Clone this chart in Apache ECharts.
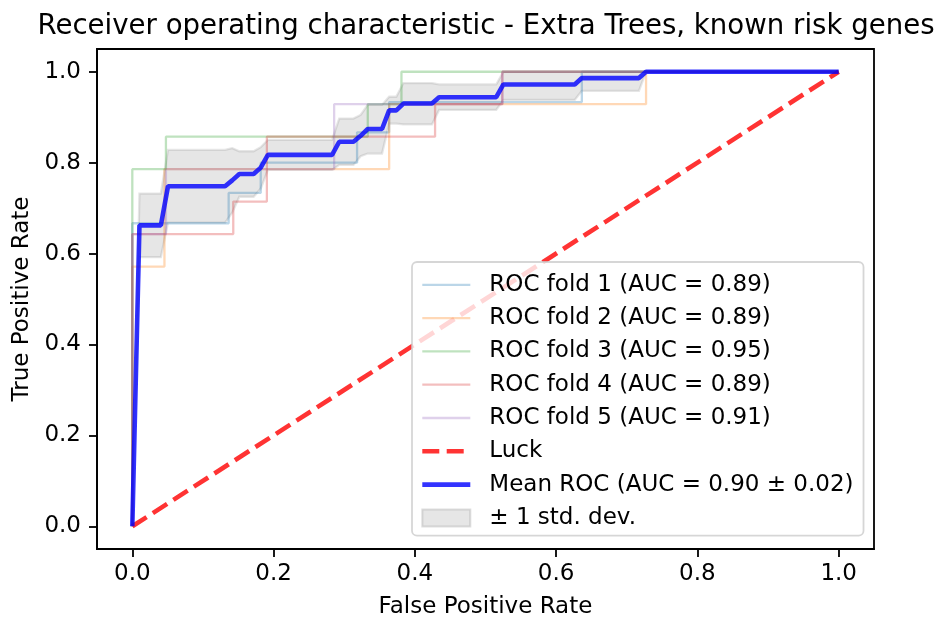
<!DOCTYPE html>
<html>
<head>
<meta charset="utf-8">
<script src="https://cdn.jsdelivr.net/npm/echarts@6/dist/echarts.min.js"></script>
<style>
  html, body { margin: 0; padding: 0; background: #ffffff; }
  #chart { width: 944px; height: 624px; }
</style>
</head>
<body>
<div id="chart"></div>
<script>
// ---- data ----
const titleText = 'Receiver operating characteristic - Extra Trees, known risk genes';
const xTicks = [0, 0.2, 0.4, 0.6, 0.8, 1.0];
const yTicks = [0, 0.2, 0.4, 0.6, 0.8, 1.0];

const fold1X = [0, 0, 0.1364, 0.1364, 0.1818, 0.1818, 0.3182, 0.3182, 0.3636, 0.3636, 0.6364, 0.6364, 1];
const fold1Y = [0, 0.6667, 0.6667, 0.7333, 0.7333, 0.8, 0.8, 0.8667, 0.8667, 0.9333, 0.9333, 1, 1];
const fold2X = [0, 0, 0.0455, 0.0455, 0.3636, 0.3636, 0.7273, 0.7273, 1];
const fold2Y = [0, 0.5714, 0.5714, 0.7857, 0.7857, 0.9286, 0.9286, 1, 1];
const fold3X = [0, 0, 0.0476, 0.0476, 0.3333, 0.3333, 0.381, 0.381, 1];
const fold3Y = [0, 0.7857, 0.7857, 0.8571, 0.8571, 0.9286, 0.9286, 1, 1];
const fold4X = [0, 0, 0.1429, 0.1429, 0.1905, 0.1905, 0.4286, 0.4286, 0.5238, 0.5238, 1];
const fold4Y = [0, 0.6429, 0.6429, 0.7143, 0.7143, 0.8571, 0.8571, 0.9286, 0.9286, 1, 1];
const fold5X = [0, 0, 0.0476, 0.0476, 0.2857, 0.2857, 0.5238, 0.5238, 1];
const fold5Y = [0, 0.6429, 0.6429, 0.7857, 0.7857, 0.9286, 0.9286, 1, 1];

const luckX = [0, 1];
const luckY = [0, 1];

const meanX = [0, 0.0101, 0.0404, 0.0505, 0.1313, 0.1414, 0.1515, 0.1717, 0.1818, 0.1919, 0.2828, 0.2929, 0.3131, 0.3232, 0.3333, 0.3535, 0.3636, 0.3737, 0.3838, 0.4242, 0.4343, 0.5152, 0.5253, 0.6263, 0.6364, 0.7172, 0.7273, 1.0];
const meanY = [0, 0.662, 0.662, 0.748, 0.748, 0.761, 0.775, 0.775, 0.789, 0.817, 0.817, 0.846, 0.846, 0.859, 0.874, 0.874, 0.915, 0.915, 0.930, 0.930, 0.944, 0.944, 0.972, 0.972, 0.986, 0.986, 1, 1];
const bandLower = [0, 0.592, 0.592, 0.668, 0.668, 0.690, 0.725, 0.725, 0.743, 0.784, 0.784, 0.795, 0.795, 0.814, 0.820, 0.820, 0.886, 0.886, 0.884, 0.884, 0.916, 0.916, 0.938, 0.938, 0.958, 0.958, 1, 1];
const bandUpper = [0, 0.732, 0.732, 0.828, 0.828, 0.832, 0.825, 0.825, 0.834, 0.850, 0.850, 0.897, 0.897, 0.905, 0.927, 0.927, 0.945, 0.945, 0.975, 0.975, 0.972, 0.972, 1, 1, 1, 1, 1, 1];

const foldNames = ['ROC fold 1 (AUC = 0.89)', 'ROC fold 2 (AUC = 0.89)', 'ROC fold 3 (AUC = 0.95)', 'ROC fold 4 (AUC = 0.89)', 'ROC fold 5 (AUC = 0.91)'];
const luckName = 'Luck';
const meanName = 'Mean ROC (AUC = 0.90 \u00b1 0.02)';
const bandName = '\u00b1 1 std. dev.';

// ---- build chart ----
const zip = (xs, ys) => xs.map((x, i) => [x, ys[i]]);
const FONT = 'DejaVu Sans';
const foldColors = ['rgba(31,119,180,0.3)', 'rgba(255,127,14,0.3)', 'rgba(44,160,44,0.3)', 'rgba(214,39,40,0.3)', 'rgba(148,103,189,0.3)'];
const foldXs = [fold1X, fold2X, fold3X, fold4X, fold5X];
const foldYs = [fold1Y, fold2Y, fold3Y, fold4Y, fold5Y];
const bandFill = 'rgba(128,128,128,0.2)';
const luckStyle = { color: 'rgba(255,0,0,0.8)', width: 4.6, type: [17, 7.4] };
const meanStyle = { color: 'rgba(0,0,255,0.8)', width: 4.6 };

const series = [];
foldXs.forEach((xs, i) => {
  series.push({
    type: 'line', name: foldNames[i], data: zip(xs, foldYs[i]),
    symbol: 'none', silent: true,
    lineStyle: { color: foldColors[i], width: 2.3 },
    itemStyle: { color: foldColors[i] }
  });
});
series.push({
  type: 'line', name: luckName, data: zip(luckX, luckY), symbol: 'none',
  lineStyle: luckStyle, itemStyle: { color: luckStyle.color }
});
series.push({
  type: 'line', name: meanName, data: zip(meanX, meanY), symbol: 'none',
  lineStyle: meanStyle, itemStyle: { color: meanStyle.color }
});
series.push({
  type: 'custom', name: bandName, data: [[0, 0]],
  itemStyle: { color: bandFill, borderColor: 'rgba(128,128,128,0.25)', borderWidth: 2 },
  renderItem: function (params, api) {
    const pts = [];
    for (let i = 0; i < meanX.length; i++) pts.push(api.coord([meanX[i], bandUpper[i]]));
    for (let i = meanX.length - 1; i >= 0; i--) pts.push(api.coord([meanX[i], bandLower[i]]));
    return {
      type: 'polygon', shape: { points: pts },
      style: { fill: bandFill, stroke: bandFill, lineWidth: 2.3 }
    };
  }
});

const axisCommon = {
  type: 'value', min: -0.05, max: 1.05,
  axisLine: { show: true, onZero: false, lineStyle: { color: '#000', width: 1.8 } },
  axisTick: { show: true, length: 8, lineStyle: { color: '#000', width: 1.8 } },
  splitLine: { show: false },
  nameLocation: 'middle',
  nameTextStyle: { fontFamily: FONT, fontSize: 23, color: '#000' }
};

const legendData = foldNames.map((n, i) => ({ name: n, lineStyle: { color: foldColors[i], width: 2.3 } }));
legendData.push({ name: luckName, lineStyle: { color: luckStyle.color, width: 4.6, type: [17, 7.4] } });
legendData.push({ name: meanName, lineStyle: { color: meanStyle.color, width: 4.6 } });
legendData.push({
  name: bandName, icon: 'rect',
  itemStyle: { opacity: 1, color: bandFill, borderColor: 'rgba(128,128,128,0.25)', borderWidth: 2 }
});

const option = {
  animation: false,
  backgroundColor: '#ffffff',
  title: {
    text: titleText, left: 481, top: 8, textAlign: 'center',
    textStyle: { fontFamily: FONT, fontSize: 27.6, fontWeight: 'normal', color: '#000' }
  },
  grid: { left: 97, top: 49, right: 70, bottom: 72, show: true, borderColor: '#000', borderWidth: 1.8, backgroundColor: 'transparent' },
  xAxis: Object.assign({}, axisCommon, {
    name: 'False Positive Rate', nameGap: 47,
    axisTick: Object.assign({}, axisCommon.axisTick, { customValues: xTicks }),
    axisLabel: { customValues: xTicks, formatter: v => v.toFixed(1), fontFamily: FONT, fontSize: 23, color: '#000', margin: 14 }
  }),
  yAxis: Object.assign({}, axisCommon, {
    name: 'True Positive Rate', nameGap: 62,
    axisTick: Object.assign({}, axisCommon.axisTick, { customValues: yTicks }),
    axisLabel: { customValues: yTicks, formatter: v => v.toFixed(1), fontFamily: FONT, fontSize: 23, color: '#000', margin: 16 }
  }),
  legend: {
    orient: 'vertical', left: 412, top: 262,
    padding: [11, 10, 6, 8],
    itemWidth: 48, itemHeight: 17, itemGap: 9.7,
    backgroundColor: 'rgba(255,255,255,0.8)',
    borderColor: 'rgba(204,204,204,0.8)', borderWidth: 1.8, borderRadius: 5,
    itemStyle: { opacity: 0 },
    textStyle: { fontFamily: FONT, fontSize: 23, color: '#000', lineHeight: 23.6, padding: [0, 0, 0, 14] },
    data: legendData
  },
  series: series
};

const chart = echarts.init(document.getElementById('chart'), null, { renderer: 'canvas' });
chart.setOption(option);
</script>
</body>
</html>
